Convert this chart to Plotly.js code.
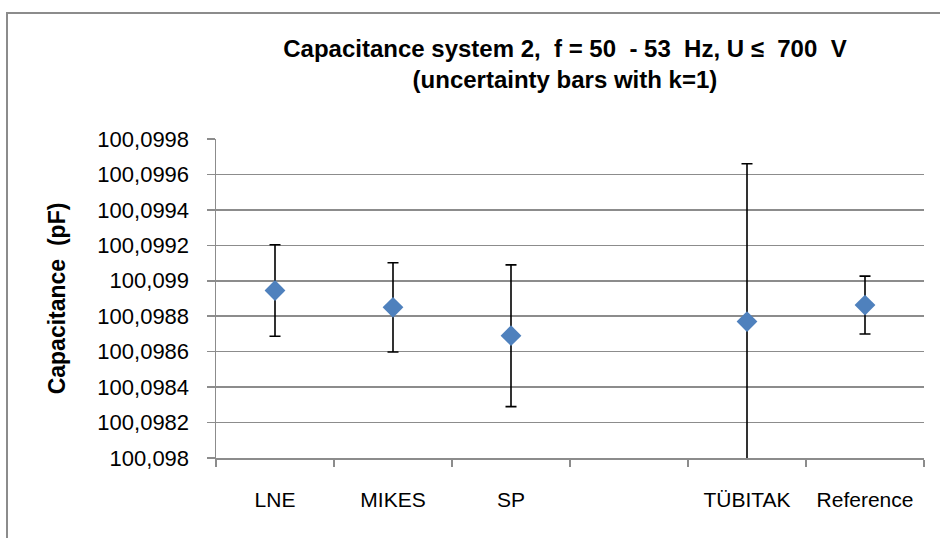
<!DOCTYPE html>
<html>
<head>
<meta charset="utf-8">
<script src="https://cdn.plot.ly/plotly-3.0.1.min.js"></script>
<style>
  html, body { margin: 0; padding: 0; width: 940px; height: 538px; overflow: hidden; background: #fff; }
  #frame { position: absolute; left: 6px; top: 12px; width: 1000px; height: 600px; border: 2px solid #8c8c8c; box-sizing: border-box; }
  #chart { position: absolute; left: 0; top: 0; width: 940px; height: 538px; }
</style>
</head>
<body>
<div id="frame"></div>
<div id="chart"></div>
<script>
// Category axis (one empty slot between SP and TÜBITAK)
const axisCategories = ['LNE', 'MIKES', 'SP', ' ', 'TÜBITAK', 'Reference'];
// Measured labs
const labs = ['LNE', 'MIKES', 'SP', 'TÜBITAK', 'Reference'];
const capacitance = [100.098945, 100.09885, 100.09869, 100.09877, 100.098863];
const uncertainty = [0.000258, 0.000252, 0.0004, 0.00089, 0.000163];
// Y tick values and labels
const yTickVals = [100.098, 100.0982, 100.0984, 100.0986, 100.0988, 100.099, 100.0992, 100.0994, 100.0996, 100.0998];
const yTickText = ['100,098', '100,0982', '100,0984', '100,0986', '100,0988', '100,099', '100,0992', '100,0994', '100,0996', '100,0998'];

const trace = {
  type: 'scatter',
  mode: 'markers',
  x: labs,
  y: capacitance,
  marker: { symbol: 'diamond', size: 16, color: '#4F81BD' },
  error_y: { type: 'data', array: uncertainty, visible: true, color: '#000', thickness: 1.6, width: 5.5 },
  hoverinfo: 'x+y'
};

const layout = {
  width: 940, height: 538,
  margin: { l: 216, r: 16, t: 139, b: 80 },
  paper_bgcolor: 'rgba(0,0,0,0)',
  plot_bgcolor: '#fff',
  showlegend: false,
  font: { family: 'Liberation Sans, Arial, sans-serif', color: '#000' },
  title: {
    text: '<b>Capacitance system 2,  f = 50  - 53  Hz, U \u2264  700  V</b><br><b>(uncertainty bars with k=1)</b>',
    font: { family: 'Liberation Sans, sans-serif', size: 24, color: '#000' },
    x: 0.601, xanchor: 'center', y: 0.894, yanchor: 'top'
  },
  xaxis: {
    type: 'category',
    categoryorder: 'array',
    categoryarray: axisCategories,
    range: [-0.5, 5.5],
    tickvals: axisCategories,
    ticktext: axisCategories,
    tickson: 'boundaries',
    ticks: 'outside', ticklen: 7, tickwidth: 1.5, tickcolor: '#8c8c8c',
    showline: true, linecolor: '#8c8c8c', linewidth: 1.5,
    showgrid: false, zeroline: false,
    ticklabelstandoff: 22,
    tickfont: { family: 'Liberation Sans, sans-serif', size: 21, color: '#000' }
  },
  yaxis: {
    range: [100.098, 100.0998],
    tickvals: yTickVals,
    ticktext: yTickText,
    ticks: 'outside', ticklen: 8, tickwidth: 1.5, tickcolor: '#8c8c8c',
    showline: true, linecolor: '#8c8c8c', linewidth: 1.5,
    showgrid: true, gridcolor: '#8c8c8c', gridwidth: 1.5,
    zeroline: false,
    ticklabelstandoff: 13,
    tickfont: { family: 'Liberation Sans, sans-serif', size: 22, color: '#000' },
    title: {
      text: '<b>Capacitance  (pF)</b>',
      font: { family: 'Liberation Sans, sans-serif', size: 23, color: '#000' },
      standoff: 25
    }
  }
};

Plotly.newPlot('chart', [trace], layout, { displayModeBar: false, staticPlot: true });
</script>
</body>
</html>
